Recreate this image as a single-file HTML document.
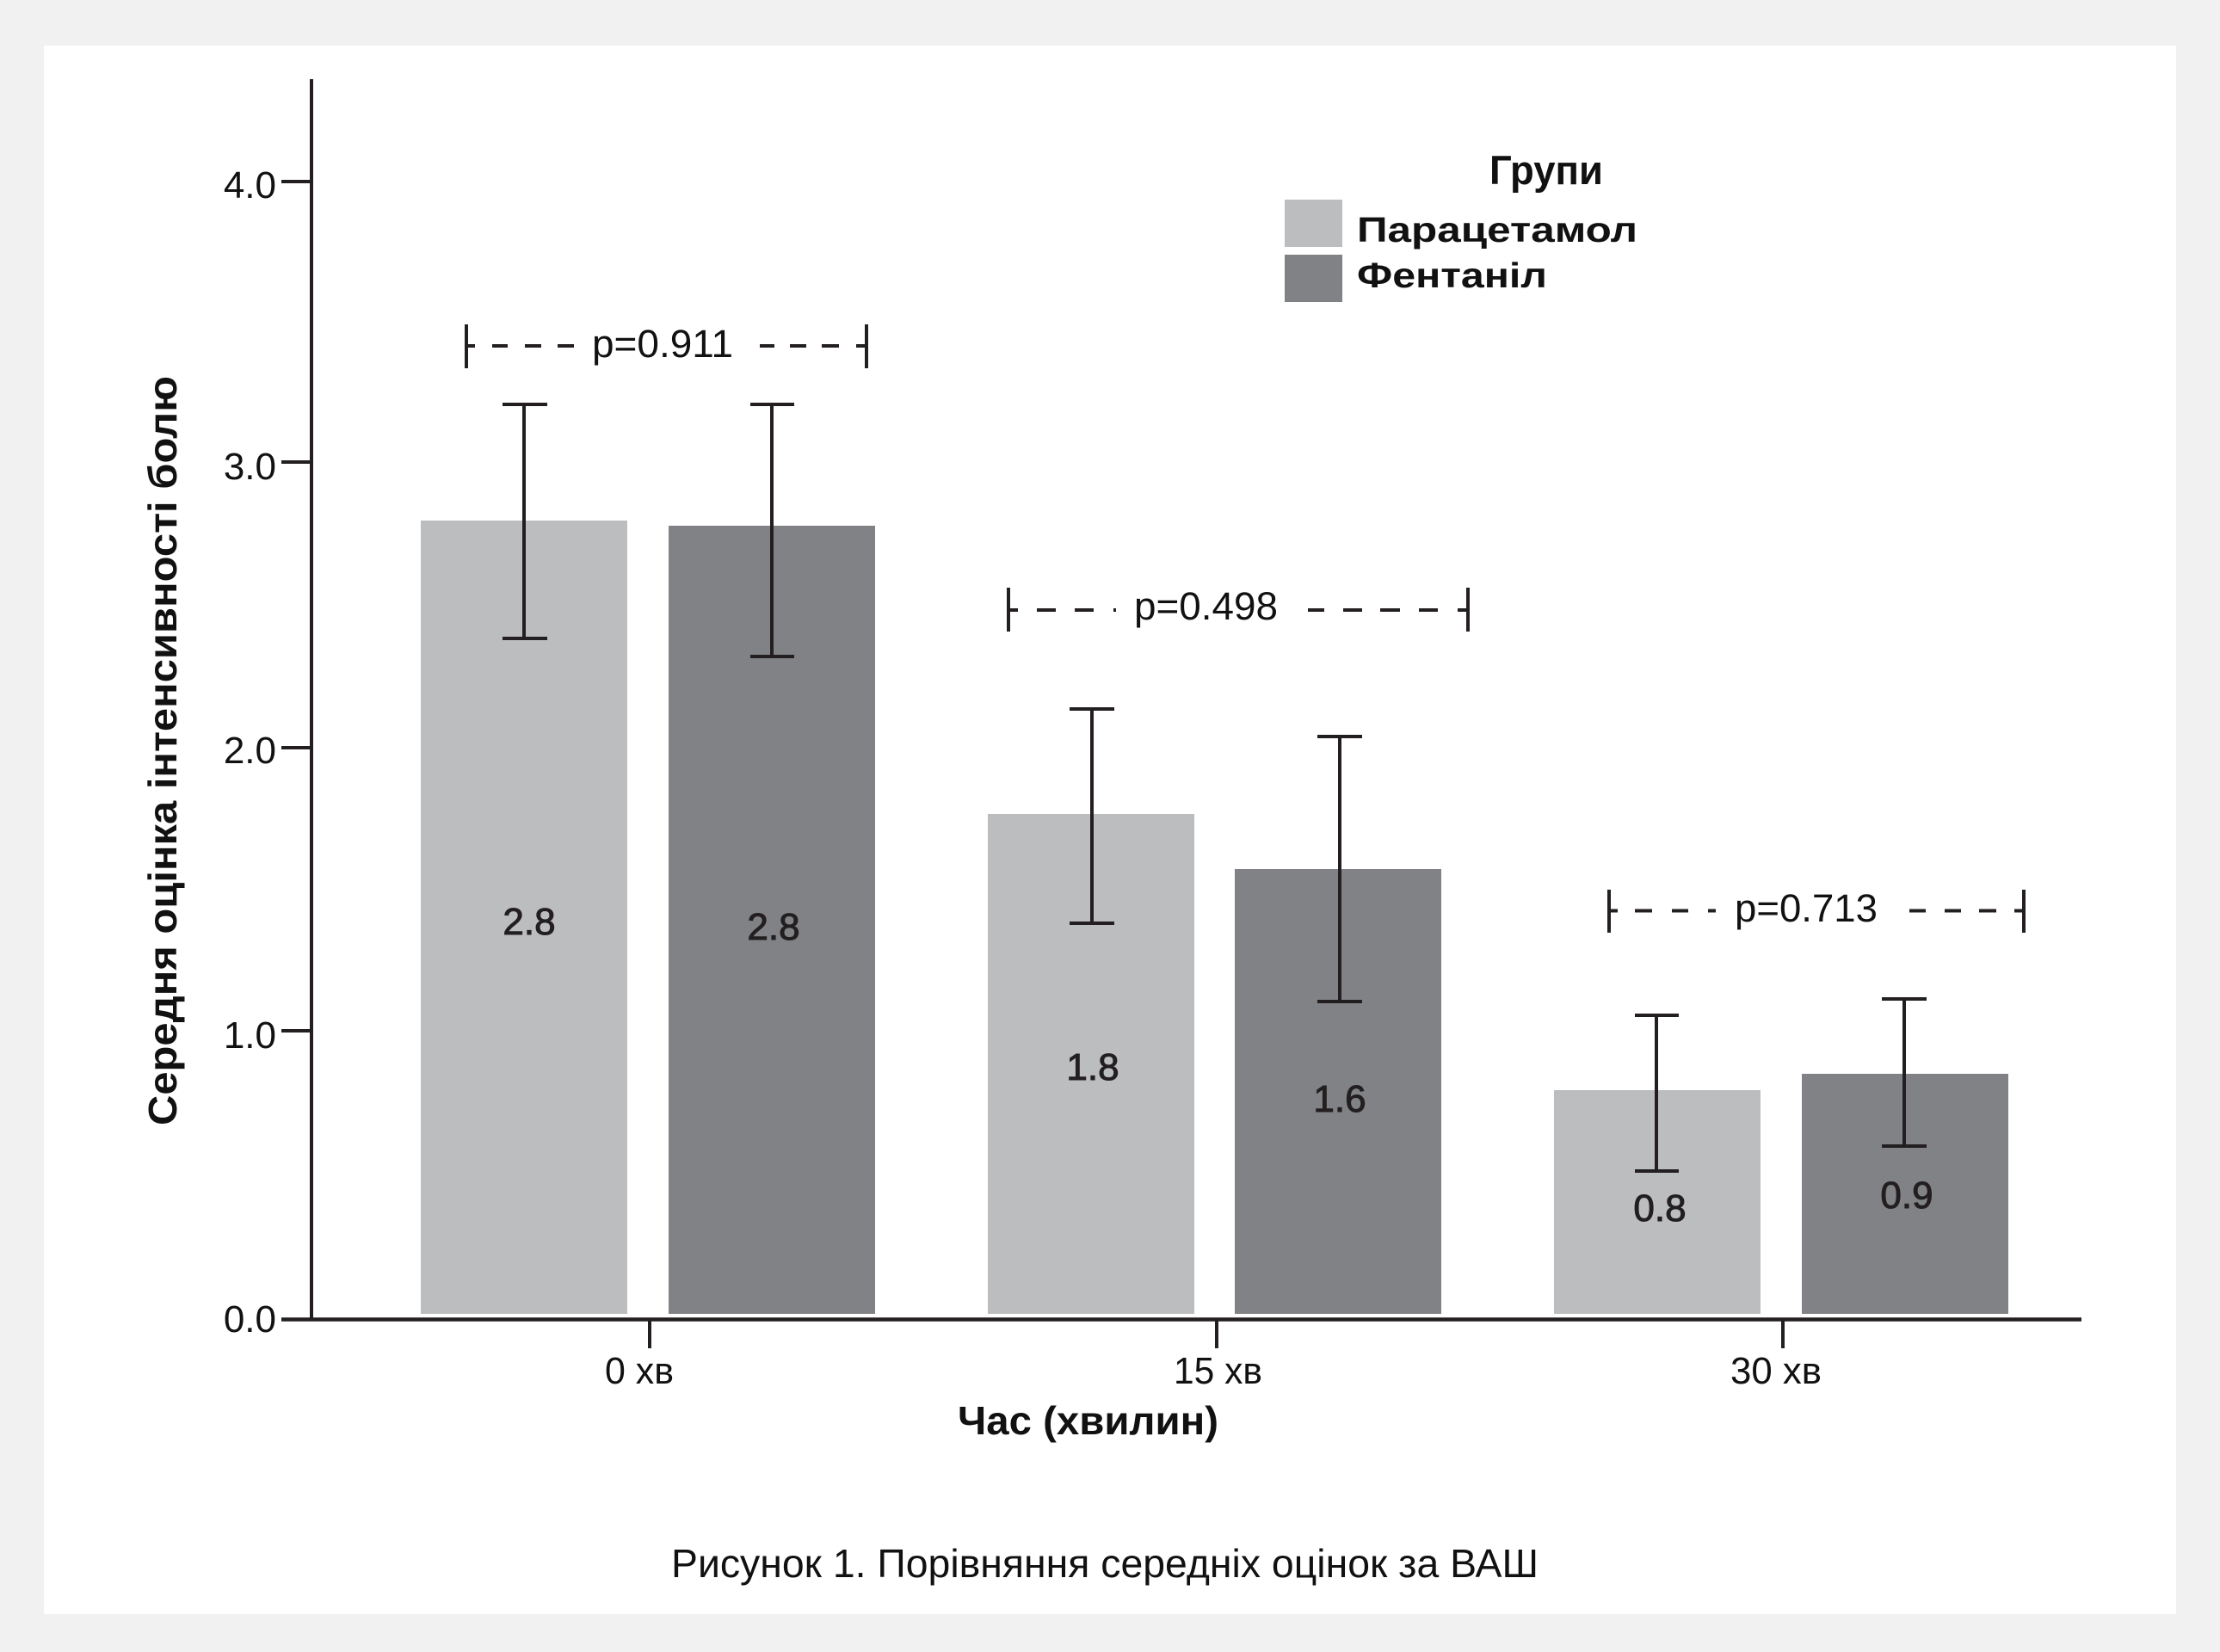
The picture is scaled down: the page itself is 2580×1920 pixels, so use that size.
<!DOCTYPE html>
<html>
<head>
<meta charset="utf-8">
<style>
html,body{margin:0;padding:0;background:#f1f1f1;}
svg{display:block;}
text{font-family:"Liberation Sans","DejaVu Sans",sans-serif;fill:#111;}
.b{font-weight:bold;}
.val{fill:#231f20;stroke:#231f20;stroke-width:1;}
</style>
</head>
<body>
<svg width="2580" height="1920" viewBox="0 0 2580 1920" xmlns="http://www.w3.org/2000/svg">
<rect x="0" y="0" width="2580" height="1920" fill="#f1f1f1"/>
<rect x="51" y="53" width="2478" height="1823" fill="#ffffff"/>

<!-- bars -->
<rect x="489" y="605" width="240" height="922" fill="#bcbdbf"/>
<rect x="777" y="611" width="240" height="916" fill="#818285"/>
<rect x="1148" y="946" width="240" height="581" fill="#bcbdbf"/>
<rect x="1435" y="1010" width="240" height="517" fill="#818285"/>
<rect x="1806" y="1267" width="240" height="260" fill="#bcbdbf"/>
<rect x="2094" y="1248" width="240" height="279" fill="#818285"/>

<!-- axes -->
<g stroke="#231f20" stroke-width="4" fill="none">
<line x1="362" y1="92" x2="362" y2="1535"/>
<line x1="327" y1="1533.5" x2="2419" y2="1533.5" stroke-width="4.5"/>
<line x1="327" y1="211" x2="362" y2="211"/>
<line x1="327" y1="537" x2="362" y2="537"/>
<line x1="327" y1="869" x2="362" y2="869"/>
<line x1="327" y1="1198" x2="362" y2="1198"/>
<line x1="755" y1="1533" x2="755" y2="1567"/>
<line x1="1414" y1="1533" x2="1414" y2="1567"/>
<line x1="2072" y1="1533" x2="2072" y2="1567"/>
</g>

<!-- y tick labels -->
<g font-size="44" text-anchor="end">
<text x="321" y="230">4.0</text>
<text x="321" y="557">3.0</text>
<text x="321" y="887">2.0</text>
<text x="321" y="1218">1.0</text>
<text x="321" y="1548">0.0</text>
</g>

<!-- error bars -->
<g stroke="#231f20" stroke-width="4" fill="none">
<line x1="609" y1="470" x2="609" y2="742"/><line x1="584" y1="470" x2="636" y2="470"/><line x1="584" y1="742" x2="636" y2="742"/>
<line x1="897" y1="470" x2="897" y2="763"/><line x1="872" y1="470" x2="923" y2="470"/><line x1="872" y1="763" x2="923" y2="763"/>
<line x1="1269" y1="824" x2="1269" y2="1073"/><line x1="1243" y1="824" x2="1295" y2="824"/><line x1="1243" y1="1073" x2="1295" y2="1073"/>
<line x1="1557" y1="856" x2="1557" y2="1164"/><line x1="1531" y1="856" x2="1583" y2="856"/><line x1="1531" y1="1164" x2="1583" y2="1164"/>
<line x1="1925" y1="1180" x2="1925" y2="1361"/><line x1="1900" y1="1180" x2="1951" y2="1180"/><line x1="1900" y1="1361" x2="1951" y2="1361"/>
<line x1="2213" y1="1161" x2="2213" y2="1332"/><line x1="2187" y1="1161" x2="2239" y2="1161"/><line x1="2187" y1="1332" x2="2239" y2="1332"/>
</g>

<!-- p-value brackets -->
<g stroke="#231f20" stroke-width="4" fill="none">
<line x1="542" y1="377" x2="542" y2="428"/>
<line x1="1007" y1="377" x2="1007" y2="428"/>
<line x1="542" y1="402" x2="552" y2="402"/>
<line x1="572" y1="402" x2="590" y2="402"/>
<line x1="610" y1="402" x2="629" y2="402"/>
<line x1="648" y1="402" x2="667" y2="402"/>
<line x1="883" y1="402" x2="900" y2="402"/>
<line x1="918" y1="402" x2="937" y2="402"/>
<line x1="955" y1="402" x2="975" y2="402"/>
<line x1="995" y1="402" x2="1007" y2="402"/>
<line x1="1172" y1="683" x2="1172" y2="734"/>
<line x1="1706" y1="683" x2="1706" y2="734"/>
<line x1="1172" y1="709" x2="1183" y2="709"/>
<line x1="1205" y1="709" x2="1227" y2="709"/>
<line x1="1249" y1="709" x2="1271" y2="709"/>
<line x1="1294" y1="709" x2="1297" y2="709"/>
<line x1="1520" y1="709" x2="1539" y2="709"/>
<line x1="1561" y1="709" x2="1583" y2="709"/>
<line x1="1604" y1="709" x2="1627" y2="709"/>
<line x1="1649" y1="709" x2="1671" y2="709"/>
<line x1="1694" y1="709" x2="1706" y2="709"/>
<line x1="1870" y1="1034" x2="1870" y2="1084"/>
<line x1="2352" y1="1034" x2="2352" y2="1084"/>
<line x1="1870" y1="1058.5" x2="1880" y2="1058.5"/>
<line x1="1900" y1="1058.5" x2="1920" y2="1058.5"/>
<line x1="1943" y1="1058.5" x2="1962" y2="1058.5"/>
<line x1="1985" y1="1058.5" x2="1994" y2="1058.5"/>
<line x1="2219" y1="1058.5" x2="2238" y2="1058.5"/>
<line x1="2260" y1="1058.5" x2="2279" y2="1058.5"/>
<line x1="2300" y1="1058.5" x2="2320" y2="1058.5"/>
<line x1="2341" y1="1058.5" x2="2352" y2="1058.5"/>
</g>
<g font-size="45">
<text x="688" y="415" textLength="164" lengthAdjust="spacingAndGlyphs">p=0.911</text>
<text x="1318" y="720" textLength="167" lengthAdjust="spacingAndGlyphs">p=0.498</text>
<text x="2016" y="1071" textLength="166" lengthAdjust="spacingAndGlyphs">p=0.713</text>
</g>

<!-- bar value labels -->
<g font-size="44" text-anchor="middle">
<text class="val" x="615" y="1086">2.8</text>
<text class="val" x="899" y="1092">2.8</text>
<text class="val" x="1270" y="1255">1.8</text>
<text class="val" x="1557" y="1292">1.6</text>
<text class="val" x="1929" y="1419">0.8</text>
<text class="val" x="2216" y="1404">0.9</text>
</g>

<!-- x tick labels -->
<g font-size="44">
<text x="703" y="1608" textLength="80" lengthAdjust="spacingAndGlyphs">0 хв</text>
<text x="1364" y="1608" textLength="103" lengthAdjust="spacingAndGlyphs">15 хв</text>
<text x="2011" y="1608" textLength="106" lengthAdjust="spacingAndGlyphs">30 хв</text>
</g>

<!-- axis titles -->
<text class="b" x="1113" y="1667" font-size="46" textLength="303" lengthAdjust="spacingAndGlyphs">Час (хвилин)</text>
<text class="b" transform="translate(205,1308) rotate(-90)" x="0" y="0" font-size="46" textLength="871" lengthAdjust="spacingAndGlyphs">Середня оцінка інтенсивності болю</text>

<!-- legend -->
<text class="b" x="1731" y="214" font-size="47" textLength="132" lengthAdjust="spacingAndGlyphs">Групи</text>
<rect x="1493" y="232" width="67" height="55" fill="#bcbdbf"/>
<rect x="1493" y="296" width="67" height="55" fill="#818285"/>
<text class="b" x="1577" y="281" font-size="41" textLength="326" lengthAdjust="spacingAndGlyphs">Парацетамол</text>
<text class="b" x="1577" y="334" font-size="41" textLength="221" lengthAdjust="spacingAndGlyphs">Фентаніл</text>

<!-- caption -->
<text x="780" y="1833" font-size="46" textLength="1008" lengthAdjust="spacingAndGlyphs">Рисунок 1. Порівняння середніх оцінок за ВАШ</text>
</svg>
</body>
</html>
